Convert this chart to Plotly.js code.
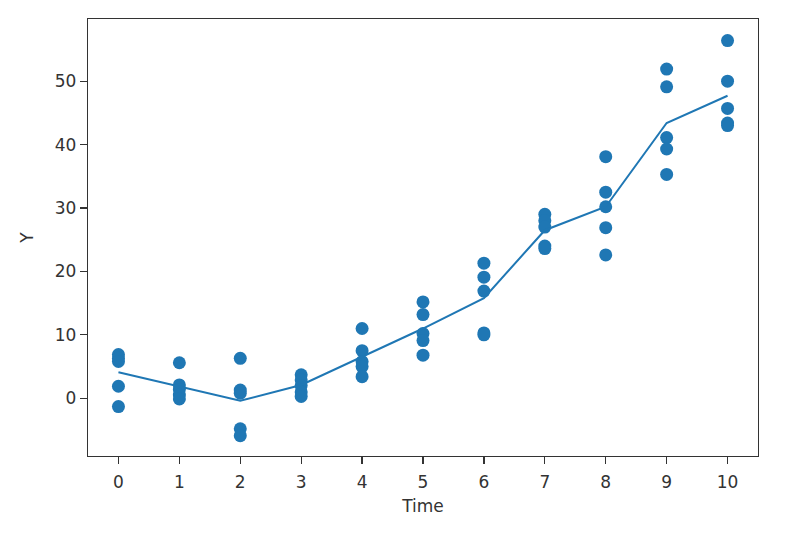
<!DOCTYPE html>
<html>
<head>
<meta charset="utf-8">
<script src="https://cdn.plot.ly/plotly-3.0.1.min.js"></script>
<style>html,body{margin:0;padding:0;background:#fff;}#chart{width:812px;height:546px;}</style>
</head>
<body>
<div id="chart"></div>
<script>
const times = [0, 1, 2, 3, 4, 5, 6, 7, 8, 9, 10];
const obs_t0 = [6.9, 6.3, 5.8, 1.9, -1.3];
const obs_t1 = [5.6, 2.1, 1.4, 0.5, -0.1];
const obs_t2 = [6.3, 1.3, 0.8, -4.8, -5.9];
const obs_t3 = [3.7, 2.9, 2.0, 1.0, 0.3];
const obs_t4 = [11.0, 7.5, 5.8, 5.0, 3.4];
const obs_t5 = [15.2, 13.2, 10.2, 9.1, 6.8];
const obs_t6 = [21.3, 19.1, 16.9, 10.3, 10.0];
const obs_t7 = [29.0, 28.0, 27.0, 24.0, 23.6];
const obs_t8 = [38.1, 32.5, 30.2, 26.9, 22.6];
const obs_t9 = [51.9, 49.1, 41.1, 39.3, 35.3];
const obs_t10 = [56.4, 50.0, 45.7, 43.4, 43.0];
const meanLine = [4.1, 1.9, -0.4, 2.1, 6.5, 11.0, 15.8, 26.5, 30.2, 43.4, 47.7];
const xTicks = [0, 1, 2, 3, 4, 5, 6, 7, 8, 9, 10];
const yTicks = [0, 10, 20, 30, 40, 50];

const groups = [obs_t0, obs_t1, obs_t2, obs_t3, obs_t4, obs_t5, obs_t6, obs_t7, obs_t8, obs_t9, obs_t10];
const sx = [], sy = [];
groups.forEach((g, i) => g.forEach(v => { sx.push(times[i]); sy.push(v); }));

const blue = '#1f77b4';
const font = {family: 'DejaVu Sans, sans-serif', size: 17, color: '#333333'};
const axisCommon = {
  showline: true, mirror: true, linecolor: '#333333', linewidth: 1.3,
  ticks: 'outside', ticklen: 7, tickwidth: 1.2, tickcolor: '#333333',
  showgrid: false, zeroline: false, tickfont: font
};

Plotly.newPlot('chart', [
  {x: sx, y: sy, type: 'scatter', mode: 'markers',
   marker: {color: blue, size: 13}, hoverinfo: 'x+y'},
  {x: times, y: meanLine, type: 'scatter', mode: 'lines',
   line: {color: blue, width: 2}}
], {
  width: 812, height: 546,
  margin: {l: 88, r: 54, t: 19, b: 90},
  paper_bgcolor: '#fff', plot_bgcolor: '#fff',
  showlegend: false,
  font: font,
  xaxis: Object.assign({}, axisCommon, {
    range: [-0.5, 10.5], tickmode: 'array', tickvals: xTicks,
    ticklabelstandoff: 3,
    title: {text: 'Time', font: font, standoff: 9}
  }),
  yaxis: Object.assign({}, axisCommon, {
    range: [-9.1, 59.8], tickmode: 'array', tickvals: yTicks,
    title: {text: 'Y', font: font, standoff: 16}
  })
}, {displayModeBar: false, staticPlot: true});
</script>
</body>
</html>
